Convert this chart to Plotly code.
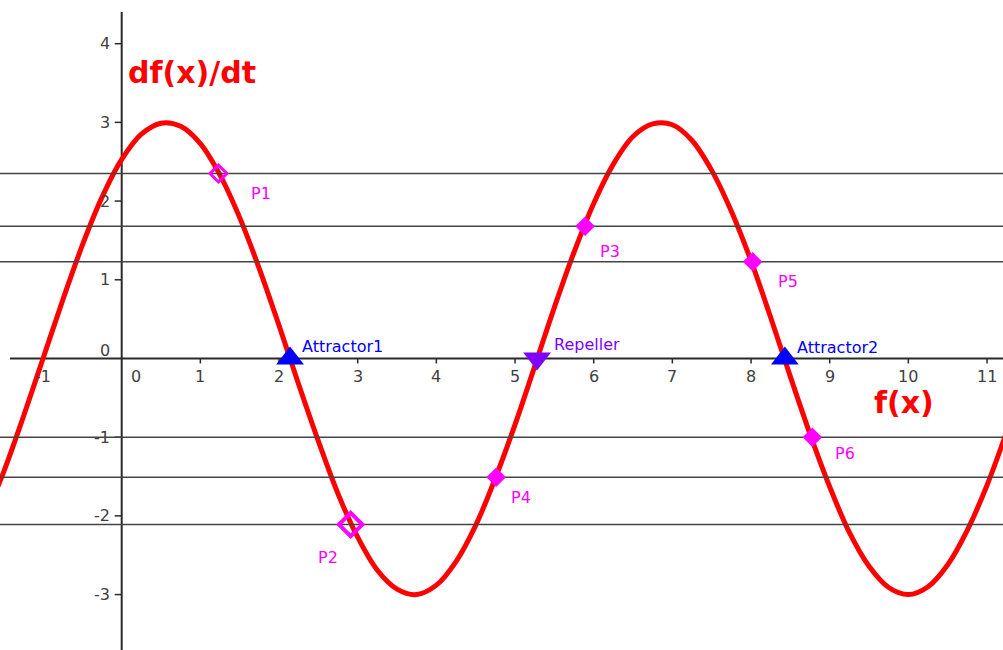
import plotly.graph_objects as go

# ---- data ----
curve_x = [-1.75, -1.5, -1.25, -1.0, -0.75, -0.5, -0.25, 0.0, 0.25, 0.5, 0.75, 1.0,
           1.25, 1.5, 1.75, 2.0, 2.25, 2.5, 2.75, 3.0, 3.25, 3.5, 3.75, 4.0, 4.25, 4.5,
           4.75, 5.0, 5.25, 5.5, 5.75, 6.0, 6.25, 6.5, 6.75, 7.0, 7.25, 7.5, 7.75, 8.0,
           8.25, 8.5, 8.75, 9.0, 9.25, 9.5, 9.75, 10.0, 10.25, 10.5, 10.75, 11.0, 11.25]
curve_y = [-2.04, -1.44, -0.74, 0.00, 0.74, 1.44, 2.05, 2.53, 2.85, 2.99, 2.95, 2.73,
           2.33, 1.79, 1.14, 0.42, -0.33, -1.05, -1.72, -2.27, -2.69, -2.93, -3.00, -2.88,
           -2.58, -2.12, -1.52, -0.84, -0.10, 0.65, 1.35, 1.97, 2.47, 2.82, 2.98, 2.97,
           2.77, 2.39, 1.87, 1.24, 0.52, -0.23, -0.96, -1.63, -2.21, -2.64, -2.91, -3.00,
           -2.90, -2.62, -2.18, -1.61, -0.93]

p_names = ["P1", "P2", "P3", "P4", "P5", "P6"]
p_x = [1.23, 2.91, 5.89, 4.76, 8.02, 8.78]
p_y = [2.35, -2.11, 1.68, -1.51, 1.23, -1.00]

eq_names = ["Attractor1", "Repeller", "Attractor2"]
eq_x = [2.14, 5.28, 8.43]
eq_y = [0.0, 0.0, 0.0]

x_ticks = [-1, 1, 2, 3, 4, 5, 6, 7, 8, 9, 10, 11]
y_ticks = [-3, -2, -1, 1, 2, 3, 4]

X_RANGE = [-1.547, 11.203]
Y_RANGE = [-3.704, 4.555]

# ---- styles ----
RED = "#ff0000"
MAG = "#ff00ff"
BLUE = "#0000ff"
PURPLE = "#7f00ff"
AXIS = "#2a2a2a"
HLINE = "#444444"
TICKC = "#404040"
FONT = "DejaVu Sans"

fig = go.Figure()

# curve
fig.add_trace(go.Scatter(x=curve_x, y=curve_y, mode="lines",
                         line=dict(color=RED, width=5, shape="spline"),
                         hoverinfo="skip", showlegend=False))

# horizontal lines through each P point
for yv in p_y:
    fig.add_trace(go.Scatter(x=X_RANGE, y=[yv, yv], mode="lines",
                             line=dict(color=HLINE, width=1.5),
                             hoverinfo="skip", showlegend=False))

# P markers
p_sym = ["diamond-open", "diamond-open", "diamond", "diamond", "diamond", "diamond"]
p_size = [13, 18, 15, 15, 15, 15]
p_lw = [3, 4, 0, 0, 0, 0]
for i in range(len(p_names)):
    fig.add_trace(go.Scatter(x=[p_x[i]], y=[p_y[i]], mode="markers",
                             marker=dict(symbol=p_sym[i], size=p_size[i], color=MAG,
                                         line=dict(color=MAG, width=p_lw[i])),
                             name=p_names[i], showlegend=False))

# equilibria
eq_sym = ["triangle-up", "triangle-down", "triangle-up"]
eq_col = [BLUE, PURPLE, BLUE]
for i in range(len(eq_names)):
    fig.add_trace(go.Scatter(x=[eq_x[i]], y=[eq_y[i]], mode="markers",
                             marker=dict(symbol=eq_sym[i], size=24, color=eq_col[i],
                                         line=dict(width=0)),
                             name=eq_names[i], showlegend=False))

shapes = []
# axis lines
shapes.append(dict(type="line", xref="paper", yref="y", x0=0.01, x1=1, y0=0, y1=0,
                   line=dict(color=AXIS, width=2), layer="below"))
shapes.append(dict(type="line", xref="x", yref="paper", x0=0, x1=0, y0=0, y1=1 - 12 / 650,
                   line=dict(color=AXIS, width=2), layer="below"))
# tick marks
for v in x_ticks:
    shapes.append(dict(type="line", xref="x", yref="y", x0=v, x1=v,
                       ysizemode="pixel", yanchor=0, y0=0, y1=-5,
                       line=dict(color=AXIS, width=1.5), layer="below"))
for v in y_ticks:
    shapes.append(dict(type="line", xref="x", yref="y", y0=v, y1=v,
                       xsizemode="pixel", xanchor=0, x0=-7, x1=0,
                       line=dict(color=AXIS, width=1.5), layer="below"))

ann = []
tick_font = dict(family=FONT, size=16, color=TICKC)
for v in x_ticks:
    ann.append(dict(x=v, y=0, xref="x", yref="y", text=str(v),
                    showarrow=False, xanchor="center", yanchor="middle",
                    yshift=-18, font=tick_font))
for v in y_ticks:
    ann.append(dict(x=0, y=v, xref="x", yref="y", text=str(v),
                    showarrow=False, xanchor="right", yanchor="middle",
                    xshift=-10, font=tick_font))
# origin labels
ann.append(dict(x=0, y=0, xref="x", yref="y", text="0", showarrow=False,
                xanchor="right", yanchor="middle", xshift=-10, yshift=8, font=tick_font))
ann.append(dict(x=0, y=0, xref="x", yref="y", text="0", showarrow=False,
                xanchor="center", yanchor="middle", xshift=14, yshift=-18, font=tick_font))

# point labels (offsets in pixels: right, down)
p_off = [(31, 20), (-35, 33), (13, 25), (13, 20), (23, 20), (21, 16)]
for i in range(len(p_names)):
    ann.append(dict(x=p_x[i], y=p_y[i], xref="x", yref="y", text=p_names[i],
                    showarrow=False, xanchor="left", yanchor="middle",
                    xshift=p_off[i][0], yshift=-p_off[i][1],
                    font=dict(family=FONT, size=16, color=MAG)))
eq_off = [(10, -12), (15, -14), (10, -11)]
for i in range(len(eq_names)):
    ann.append(dict(x=eq_x[i], y=eq_y[i], xref="x", yref="y", text=eq_names[i],
                    showarrow=False, xanchor="left", yanchor="middle",
                    xshift=eq_off[i][0], yshift=-eq_off[i][1],
                    font=dict(family=FONT, size=16, color=eq_col[i])))

# axis titles
ann.append(dict(x=0.05, y=3.64, xref="x", yref="y", text="<b>df(x)/dt</b>",
                showarrow=False, xanchor="left", yanchor="middle",
                font=dict(family=FONT, size=30, color=RED)))
ann.append(dict(x=9.54, y=-0.56, xref="x", yref="y", text="<b>f(x)</b>",
                showarrow=False, xanchor="left", yanchor="middle",
                font=dict(family=FONT, size=30, color=RED)))

fig.update_layout(
    width=1003, height=650,
    margin=dict(l=0, r=0, t=0, b=0),
    paper_bgcolor="white", plot_bgcolor="white",
    xaxis=dict(range=X_RANGE, visible=False, fixedrange=True),
    yaxis=dict(range=Y_RANGE, visible=False, fixedrange=True),
    shapes=shapes, annotations=ann, showlegend=False,
)

fig.write_html("out.html", config={"displayModeBar": False},
               post_script="document.body.style.margin='0px';document.body.style.overflow='hidden';")
